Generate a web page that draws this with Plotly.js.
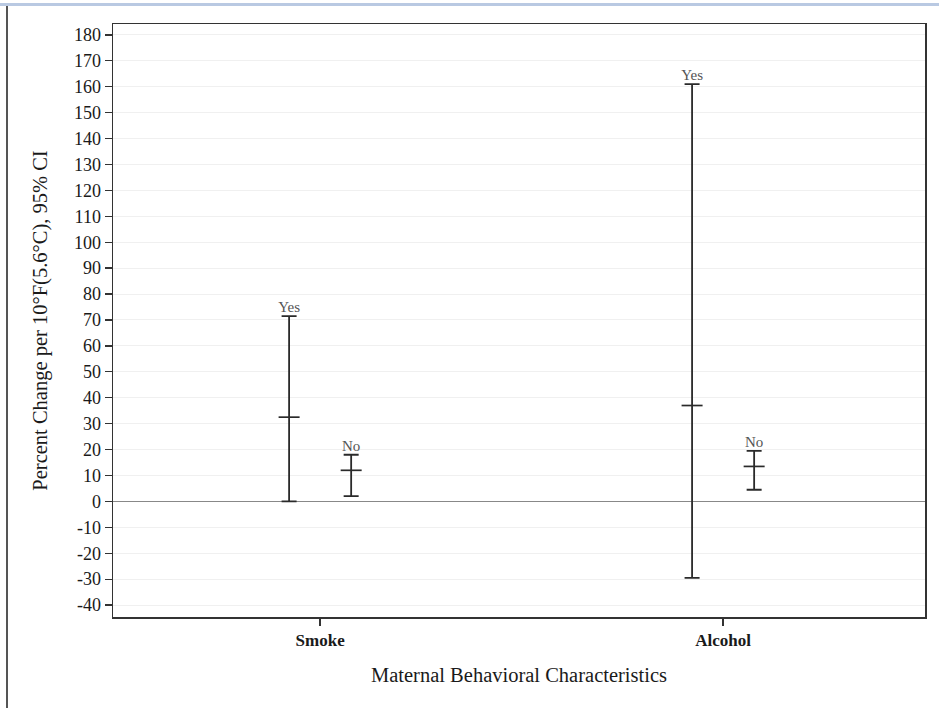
<!DOCTYPE html>
<html>
<head>
<meta charset="utf-8">
<script src="https://cdn.plot.ly/plotly-3.0.1.min.js"></script>
<style>
  html, body { margin: 0; padding: 0; background: #fff; }
  #wrap { position: relative; width: 939px; height: 708px; overflow: hidden; }
  #topline { position: absolute; left: 0; top: 3px; width: 939px; height: 3px; background: #b9c9e2; }
  #leftline { position: absolute; left: 6px; top: 6px; width: 2px; height: 702px; background: #555; }
  #chart { position: absolute; left: 0; top: 0; width: 939px; height: 708px; }
</style>
</head>
<body>
<div id="wrap">
  <div id="chart"></div>
  <div id="topline"></div>
  <div id="leftline"></div>
</div>
<script>
// Data
const categories = ["Smoke", "Alcohol"];
const groups = ["Yes", "No"];
// estimates, lower and upper 95% CI per category, for [Yes, No]
const estimate = { Smoke: [32.5, 12.0], Alcohol: [37.0, 13.5] };
const lower    = { Smoke: [0.0, 2.0],   Alcohol: [-29.5, 4.5] };
const upper    = { Smoke: [71.5, 18.0], Alcohol: [161.0, 19.5] };
// y tick values and labels (hyphen minus as in the original)
const yTickVals = [-40, -30, -20, -10, 0, 10, 20, 30, 40, 50, 60, 70, 80, 90,
                   100, 110, 120, 130, 140, 150, 160, 170, 180];
const yTickText = ["-40", "-30", "-20", "-10", "0", "10", "20", "30", "40", "50", "60", "70", "80", "90",
                   "100", "110", "120", "130", "140", "150", "160", "170", "180"];

const offset = 0.077; // group offset within category
const xs = [], ys = [], plus = [], minus = [], labY = [], labT = [];
categories.forEach((c, ci) => {
  groups.forEach((g, gi) => {
    const x = ci + (gi === 0 ? -offset : offset);
    xs.push(x);
    ys.push(estimate[c][gi]);
    plus.push(upper[c][gi] - estimate[c][gi]);
    minus.push(estimate[c][gi] - lower[c][gi]);
    labY.push(upper[c][gi]);
    labT.push(g);
  });
});

const serif = "Liberation Serif, Times New Roman, serif";

const traces = [
  {
    type: "scatter", mode: "markers", x: xs, y: ys,
    marker: { symbol: "line-ew", size: 15, color: "#2a2a2a", line: { color: "#2a2a2a", width: 1.7 } },
    error_y: { type: "data", symmetric: false, array: plus, arrayminus: minus,
               width: 7.5, thickness: 1.8, color: "#2a2a2a" },
    hoverinfo: "x+y", showlegend: false
  },
  {
    type: "scatter", mode: "text", x: xs, y: labY, text: labT,
    textposition: "top center", cliponaxis: false,
    textfont: { family: serif, size: 15, color: "#555" },
    hoverinfo: "skip", showlegend: false
  }
];

const layout = {
  width: 939, height: 708,
  margin: { l: 113, r: 14, t: 24, b: 91 },
  paper_bgcolor: "#fff", plot_bgcolor: "#fff",
  showlegend: false,
  xaxis: {
    range: [-0.514, 1.501],
    tickvals: [0, 1], ticktext: categories.map(c => "<b>" + c + "</b>"),
    ticks: "outside", ticklen: 7, tickwidth: 1.3, tickcolor: "#333",
    showgrid: false, zeroline: false,
    showline: true, linecolor: "#333", linewidth: 1.5, mirror: true,
    tickfont: { family: serif, size: 17, color: "#1a1a1a" },
    title: { text: "Maternal Behavioral Characteristics", standoff: 18,
             font: { family: serif, size: 20.5, color: "#1a1a1a" } }
  },
  yaxis: {
    range: [-44.6, 184.2],
    tickvals: yTickVals, ticktext: yTickText,
    ticks: "outside", ticklen: 7, tickwidth: 1.3, tickcolor: "#333",
    showgrid: true, gridcolor: "#f0f0f0", gridwidth: 1,
    zeroline: true, zerolinecolor: "#888", zerolinewidth: 1,
    showline: true, linecolor: "#333", linewidth: 1.5, mirror: true,
    tickfont: { family: serif, size: 18, color: "#1a1a1a" },
    title: { text: "Percent Change per 10°F(5.6°C), 95% CI", standoff: 20,
             font: { family: serif, size: 20.5, color: "#1a1a1a" } }
  }
};

Plotly.newPlot("chart", traces, layout, { displayModeBar: false, staticPlot: true });
</script>
</body>
</html>
